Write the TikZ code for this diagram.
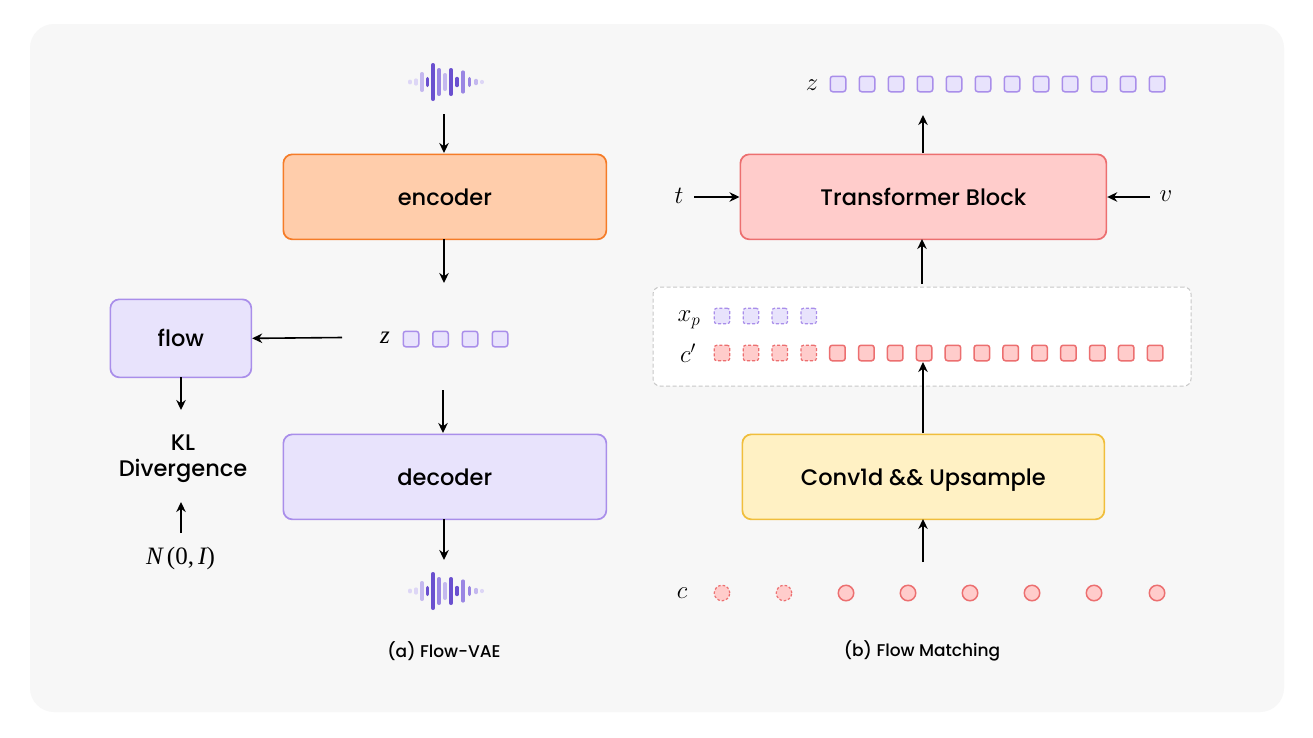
\documentclass[tikz,border=0pt]{standalone}
\usepackage{fontspec}
\setmainfont{Poppins Medium}
\newfontfamily\serifz{Liberation Serif}
\usetikzlibrary{arrows.meta}
\definecolor{bgc}{HTML}{F7F7F7}
\definecolor{pfill}{HTML}{E8E3FC}
\definecolor{pline}{HTML}{A98EEA}
\definecolor{rfill}{HTML}{FFCCCB}
\definecolor{rline}{HTML}{EC6F70}
\definecolor{ofill}{HTML}{FFCDAB}
\definecolor{oline}{HTML}{F57C28}
\definecolor{yfill}{HTML}{FFF1C4}
\definecolor{yline}{HTML}{F0BE3C}
\definecolor{wdark}{HTML}{6A50CF}
\definecolor{wmid}{HTML}{9A86E3}
\definecolor{wlight}{HTML}{C4B8EF}
\definecolor{wpale}{HTML}{DDD6F6}
\tikzset{
  x=1pt,y=-1pt,
  boxbase/.style={draw,rounded corners=9pt,line width=1.7pt,inner sep=0pt,anchor=north west,font=\fontsize{22.5}{26}\selectfont,text=black,text height=17pt,text depth=0pt},
  pbox/.style={boxbase,fill=pfill,draw=pline},
  rbox/.style={boxbase,fill=rfill,draw=rline},
  obox/.style={boxbase,fill=ofill,draw=oline},
  ybox/.style={boxbase,fill=yfill,draw=yline},
  arr/.style={-{Stealth[length=10pt,width=9.5pt]},line width=1.6pt,black},
  sq/.style={draw,rounded corners=2.5pt,minimum size=15.5pt,inner sep=0pt,line width=1.5pt},
  psq/.style={sq,fill=pfill,draw=pline},
  rsq/.style={sq,fill=rfill,draw=rline},
  dpsq/.style={psq,dash pattern=on 3pt off 2pt,line width=1.2pt},
  drsq/.style={rsq,dash pattern=on 3pt off 2pt,line width=1.2pt},
  circ/.style={circle,draw=rline,fill=rfill,minimum size=15.5pt,inner sep=0pt,line width=1.5pt},
  dcirc/.style={circ,dash pattern=on 2.5pt off 2pt,line width=1.2pt},
  mlabel/.style={font=\fontsize{24}{26}\selectfont,inner sep=0pt},
  slabel/.style={font=\fontsize{25}{28}\serifz,inner sep=0pt},
  plain/.style={font=\fontsize{22.5}{25.5}\selectfont,align=center,inner sep=0pt,text=black},
  capt/.style={font=\fontsize{17}{20}\selectfont,inner sep=0pt,text=black},
  panel/.style={draw=black!22,fill=white,rounded corners=7pt,dash pattern=on 4pt off 2.5pt,line width=1pt,anchor=north west,inner sep=0pt},
  wbar/.style={line cap=round,line width=3.6pt},
}
\newcommand{\wavedraw}[3]{%
  \foreach \dx/\h/\c in {-35/0.6/wpale,-29/1.8/wpale,-23/8.2/wlight,-17.5/3.4/wdark,-12/17.2/wdark,-6/12.2/wmid,0/7.2/wlight,6/12.2/wdark,12/3.4/wdark,18/9.8/wmid,24.5/3.4/wmid,31/1.4/wlight,37/0.3/wpale}{
    \draw[wbar,\c] (#1+\dx,#2-\h) -- (#1+\dx,#2+\h);
  }
  \coordinate (#3) at (#1,#2);
}
\begin{document}
\begin{tikzpicture}
\useasboundingbox (0,0) rectangle (1313,737);
\fill[white] (0,0) rectangle (1313,737);
\fill[bgc,rounded corners=24pt] (30,24) rectangle (1284,712);

% Flow-VAE
\node[obox,minimum width=323pt,minimum height=85pt] (enc) at (282.5,153.5) {encoder};
\node[pbox,minimum width=323pt,minimum height=85pt] (dec) at (282.5,433.5) {decoder};
\node[pbox,minimum width=141pt,minimum height=78pt] (flow) at (109.5,298.5) {flow};
\wavedraw{445}{82}{w1}
\wavedraw{445}{591}{w2}
\coordinate (w1e) at (444,114);
\coordinate (w2e) at (444,560);
\coordinate (enco) at (444,283);
\coordinate (zl) at (342,337.5);
\coordinate (zd) at (443,390);
\node[slabel] (zA) at (385,338) {\itshape z};
\foreach \n/\x in {1/411,2/440.5,3/470,4/500}{\node[psq] (za\n) at (\x,339) {};}
\node[plain] (kl) at (183,458.5) {KL\\Divergence};
\node[slabel] (ni) at (180.5,558) {\itshape N\,\upshape(0,\,\itshape I\upshape)};
\node[capt] (capa) at (444,651) {(a) Flow-VAE};

\draw[arr] (w1e) -- (444,153);
\draw[arr] (444,239) -- (enco);
\draw[arr] (zl) -- (flow.east);
\draw[arr] (zd) -- (443,433);
\draw[arr] (444,519) -- (w2e);
\draw[arr] (181,377) -- (181,410);
\draw[arr] (181,533) -- (181,502);

% Flow Matching
\node[rbox,minimum width=366pt,minimum height=85pt] (tb) at (739.5,153.5) {Transformer Block};
\node[ybox,minimum width=362pt,minimum height=85pt] (conv) at (741.5,433.5) {Conv1d \&\& Upsample};
\node[panel,minimum width=538pt,minimum height=99pt] (pan) at (652.5,286.5) {};
\node[mlabel] (zB) at (812,85) {$z$};
\foreach \i in {1,...,12}{\node[psq] (zt\i) at ({838+29*(\i-1)},84) {};}
\node[mlabel] (tl) at (679,196) {$t$};
\node[mlabel] (vl) at (1166,196) {$v$};
\node[mlabel] (xp) at (689,320) {$x_p$};
\node[mlabel] (cp) at (688,353) {$c'$};
\foreach \i in {1,...,4}{\node[dpsq] (xs\i) at ({722+28.9*(\i-1)},316) {};}
\foreach \i in {1,...,4}{\node[drsq] (cs\i) at ({722+28.9*(\i-1)},353) {};}
\foreach \i in {5,...,16}{\node[rsq] (cs\i) at ({722+28.87*(\i-1)},353) {};}
\node[mlabel] (cl) at (682,593) {$c$};
\node[dcirc] (c1) at (722,593) {};
\node[dcirc] (c2) at (784,593) {};
\foreach \i/\x in {3/846,4/908,5/970,6/1032,7/1094,8/1157}{\node[circ] (c\i) at (\x,593) {};}
\node[capt] (capb) at (922,651) {(b) Flow Matching};
\coordinate (tt) at (923,115);
\coordinate (tb0) at (922,284);
\coordinate (cc) at (923,562);
\coordinate (cup) at (923,362);

\draw[arr] (923,153) -- (tt);
\draw[arr] (tb0) -- (922,239);
\draw[arr] (694,197) -- (tb.west |- 0,197);
\draw[arr] (1150,197) -- (tb.east |- 0,197);
\draw[arr] (923,433) -- (cup);
\draw[arr] (cc) -- (923,519);
\end{tikzpicture}
\end{document}
